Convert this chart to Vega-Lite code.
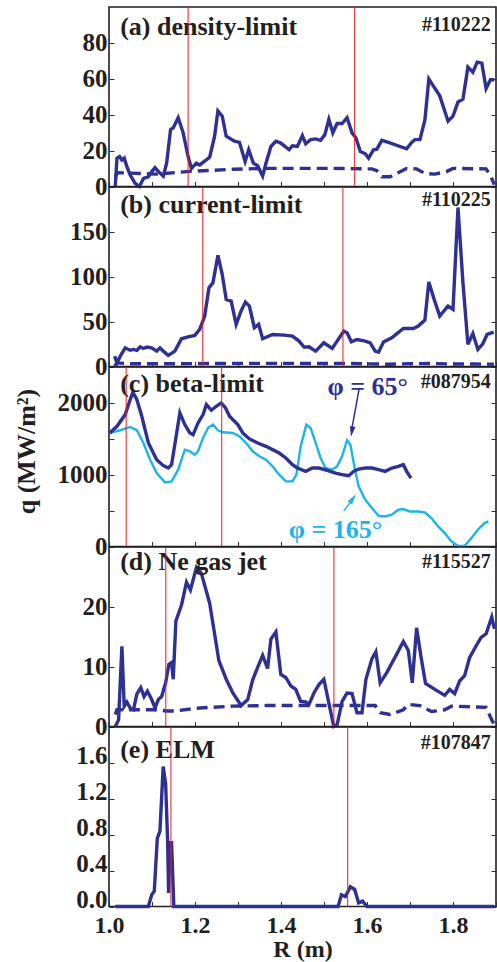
{
"$schema": "https://vega.github.io/schema/vega-lite/v6.json",
"padding": {"left": 12, "top": 5, "right": 0, "bottom": 0},
"spacing": 0,
"bounds": "flush",
"config": {
 "font": "Liberation Serif",
 "view": {"stroke": "#231f20", "strokeWidth": 1.6},
 "axis": {"domain": false, "grid": false, "ticks": true, "tickSize": -5, "tickColor": "#333333", "tickWidth": 1,
  "labelFont": "Liberation Serif", "labelFontWeight": "bold", "labelFontSize": 25, "labelColor": "#231f20",
  "labelPadding": 7, "labelOverlap": false, "labelFlush": false,
  "titleFont": "Liberation Serif", "titleFontWeight": "bold", "titleFontSize": 25, "titleColor": "#231f20"},
 "text": {"font": "Liberation Serif", "fontWeight": "bold", "color": "#231f20"}
},
"datasets": {
 "vlines": [
  {"p": "a", "R": 1.184}, {"p": "a", "R": 1.571},
  {"p": "b", "R": 1.218}, {"p": "b", "R": 1.544},
  {"p": "c", "R": 1.040}, {"p": "c", "R": 1.262},
  {"p": "d", "R": 1.132}, {"p": "d", "R": 1.523},
  {"p": "e", "R": 1.144}, {"p": "e", "R": 1.555}
 ],
 "a_solid": [
  {"R":1.0146,"q":0},{"R":1.0185,"q":15.8},{"R":1.0246,"q":16.7},{"R":1.030,"q":14.8},{"R":1.0354,"q":15.8},{"R":1.0416,"q":11.1},{"R":1.0493,"q":6.4},{"R":1.0608,"q":1.7},{"R":1.0708,"q":0},{"R":1.0801,"q":4.5},{"R":1.0916,"q":5.4},{"R":1.0993,"q":8.3},{"R":1.107,"q":10.5},{"R":1.1147,"q":8.3},{"R":1.1263,"q":5.8},{"R":1.134,"q":13.0},{"R":1.1432,"q":31.7},{"R":1.1494,"q":32.7},{"R":1.1609,"q":38.3},{"R":1.1725,"q":29.9},{"R":1.184,"q":16.7},{"R":1.1917,"q":10.1},{"R":1.2033,"q":13.0},{"R":1.211,"q":12.0},{"R":1.2341,"q":16.3},{"R":1.2456,"q":28.0},{"R":1.2533,"q":42.1},{"R":1.2633,"q":39.2},{"R":1.2726,"q":28.0},{"R":1.2918,"q":25.2},{"R":1.3034,"q":24.6},{"R":1.3165,"q":13.9},{"R":1.3249,"q":20.5},{"R":1.3357,"q":13.0},{"R":1.3457,"q":11.6},{"R":1.3573,"q":5.8},{"R":1.365,"q":13.0},{"R":1.3765,"q":22.3},{"R":1.3881,"q":25.2},{"R":1.3996,"q":24.2},{"R":1.4189,"q":20.5},{"R":1.4266,"q":22.7},{"R":1.4381,"q":22.3},{"R":1.4497,"q":28.4},{"R":1.4574,"q":23.8},{"R":1.4689,"q":26.1},{"R":1.4805,"q":26.5},{"R":1.492,"q":25.7},{"R":1.502,"q":28.9},{"R":1.5113,"q":37.4},{"R":1.5205,"q":29.9},{"R":1.5305,"q":35.1},{"R":1.5421,"q":35.1},{"R":1.5536,"q":38.3},{"R":1.5652,"q":29.9},{"R":1.5744,"q":27.0},{"R":1.5844,"q":19.5},{"R":1.596,"q":18.2},{"R":1.6037,"q":15.8},{"R":1.6152,"q":20.5},{"R":1.6229,"q":20.8},{"R":1.6345,"q":25.7},{"R":1.6499,"q":24.6},{"R":1.6922,"q":21.0},{"R":1.7038,"q":24.6},{"R":1.7115,"q":26.1},{"R":1.723,"q":26.1},{"R":1.7346,"q":37.0},{"R":1.7438,"q":59.9},{"R":1.7538,"q":56.2},{"R":1.7692,"q":50.5},{"R":1.7885,"q":36.4},{"R":1.8,"q":39.2},{"R":1.8116,"q":47.1},{"R":1.8231,"q":48.6},{"R":1.8347,"q":66.5},{"R":1.8462,"q":63.7},{"R":1.8562,"q":69.3},{"R":1.867,"q":68.7},{"R":1.877,"q":54.6},{"R":1.887,"q":59.5},{"R":1.8963,"q":59.5}
 ],
 "a_dash": [
  {"R":1.0146,"q":5.4},{"R":1.02,"q":7.7},{"R":1.1109,"q":6.9},{"R":1.1802,"q":8.3},{"R":1.288,"q":9.6},{"R":1.365,"q":10.1},{"R":1.519,"q":10.1},{"R":1.6114,"q":9.8},{"R":1.623,"q":8.8},{"R":1.6345,"q":5.4},{"R":1.6537,"q":5.4},{"R":1.6922,"q":10.1},{"R":1.7153,"q":9.8},{"R":1.7346,"q":7.3},{"R":1.7577,"q":6.9},{"R":1.7846,"q":8.3},{"R":1.8,"q":10.1},{"R":1.877,"q":9.8},{"R":1.8886,"q":5.4},{"R":1.896,"q":1.0}
 ],
 "b_solid": [
  {"R":1.0131,"q":11.5},{"R":1.0185,"q":4.1},{"R":1.0262,"q":11.5},{"R":1.0377,"q":20.8},{"R":1.0493,"q":18.2},{"R":1.057,"q":19.0},{"R":1.0647,"q":17.9},{"R":1.0724,"q":22.0},{"R":1.0801,"q":20.1},{"R":1.0878,"q":21.6},{"R":1.0993,"q":20.8},{"R":1.1109,"q":17.1},{"R":1.1186,"q":20.8},{"R":1.1263,"q":17.1},{"R":1.1378,"q":12.3},{"R":1.1532,"q":17.1},{"R":1.1686,"q":30.9},{"R":1.184,"q":33.1},{"R":1.1994,"q":34.6},{"R":1.211,"q":41.3},{"R":1.2225,"q":56.2},{"R":1.2325,"q":87.8},{"R":1.2418,"q":93.4},{"R":1.2533,"q":123.9},{"R":1.2633,"q":102.7},{"R":1.2726,"q":74.8},{"R":1.2841,"q":72.9},{"R":1.2957,"q":46.9},{"R":1.3072,"q":61.8},{"R":1.3172,"q":71.8},{"R":1.3265,"q":67.4},{"R":1.338,"q":43.2},{"R":1.348,"q":46.9},{"R":1.3573,"q":30.9},{"R":1.3804,"q":35.7},{"R":1.4073,"q":35.0},{"R":1.4266,"q":33.9},{"R":1.442,"q":28.3},{"R":1.4535,"q":21.6},{"R":1.4651,"q":22.0},{"R":1.4805,"q":17.1},{"R":1.4997,"q":26.4},{"R":1.519,"q":20.1},{"R":1.5305,"q":28.3},{"R":1.5459,"q":39.4},{"R":1.5536,"q":37.6},{"R":1.5636,"q":27.5},{"R":1.5767,"q":30.1},{"R":1.596,"q":28.3},{"R":1.6075,"q":26.4},{"R":1.6191,"q":17.1},{"R":1.6268,"q":16.0},{"R":1.6383,"q":27.2},{"R":1.6576,"q":32.0},{"R":1.6845,"q":42.4},{"R":1.7076,"q":42.4},{"R":1.7192,"q":45.0},{"R":1.7346,"q":51.7},{"R":1.7438,"q":94.2},{"R":1.7561,"q":74.8},{"R":1.7692,"q":56.2},{"R":1.7885,"q":67.4},{"R":1.8,"q":63.6},{"R":1.8116,"q":177.2},{"R":1.8231,"q":93.4},{"R":1.8347,"q":24.6},{"R":1.8462,"q":36.8},{"R":1.8578,"q":19.0},{"R":1.8693,"q":25.3},{"R":1.8793,"q":35.7},{"R":1.8947,"q":38.3}
 ],
 "b_dash": [
  {"R":1.0131,"q":0.5},{"R":1.0185,"q":4},{"R":1.05,"q":3},{"R":1.1,"q":3},{"R":1.2,"q":3.2},{"R":1.3,"q":3.5},{"R":1.4,"q":3.5},{"R":1.5,"q":3.3},{"R":1.55,"q":3.5},{"R":1.6,"q":3},{"R":1.65,"q":2.5},{"R":1.7,"q":3.2},{"R":1.75,"q":3.3},{"R":1.8,"q":2.8},{"R":1.85,"q":2.8},{"R":1.895,"q":2.5}
 ],
 "c_65": [
  {"R":1.0015,"q":1581},{"R":1.0185,"q":1674},{"R":1.0377,"q":1837},{"R":1.0454,"q":1977},{"R":1.0554,"q":2149},{"R":1.0647,"q":2047},{"R":1.0762,"q":1814},{"R":1.0916,"q":1442},{"R":1.1109,"q":1209},{"R":1.1263,"q":1126},{"R":1.1378,"q":1093},{"R":1.1455,"q":1140},{"R":1.1555,"q":1512},{"R":1.1648,"q":1860},{"R":1.1763,"q":1698},{"R":1.1879,"q":1581},{"R":1.1956,"q":1558},{"R":1.2071,"q":1721},{"R":1.2187,"q":1837},{"R":1.2264,"q":1977},{"R":1.2379,"q":1898},{"R":1.2495,"q":1953},{"R":1.261,"q":2000},{"R":1.271,"q":1930},{"R":1.2803,"q":1814},{"R":1.2918,"q":1744},{"R":1.2995,"q":1698},{"R":1.3111,"q":1581},{"R":1.3265,"q":1498},{"R":1.3457,"q":1442},{"R":1.365,"q":1395},{"R":1.3804,"q":1349},{"R":1.3958,"q":1302},{"R":1.4112,"q":1233},{"R":1.4266,"q":1140},{"R":1.4381,"q":1093},{"R":1.4574,"q":1047},{"R":1.4728,"q":1093},{"R":1.4882,"q":1093},{"R":1.5074,"q":1060},{"R":1.5267,"q":1023},{"R":1.5421,"q":1000},{"R":1.5575,"q":986},{"R":1.569,"q":1047},{"R":1.5806,"q":1079},{"R":1.596,"q":1093},{"R":1.6114,"q":1093},{"R":1.6268,"q":1070},{"R":1.6422,"q":1047},{"R":1.6576,"q":1093},{"R":1.673,"q":1116},{"R":1.6845,"q":1140},{"R":1.6922,"q":1047},{"R":1.7022,"q":953}
 ],
 "c_165": [
  {"R":1.0015,"q":1581},{"R":1.0262,"q":1619},{"R":1.0493,"q":1665},{"R":1.0647,"q":1619},{"R":1.0801,"q":1442},{"R":1.0955,"q":1209},{"R":1.1109,"q":1023},{"R":1.1301,"q":893},{"R":1.1455,"q":907},{"R":1.1609,"q":1070},{"R":1.1763,"q":1349},{"R":1.1879,"q":1326},{"R":1.1994,"q":1279},{"R":1.2071,"q":1326},{"R":1.2187,"q":1512},{"R":1.2302,"q":1651},{"R":1.2418,"q":1698},{"R":1.2533,"q":1619},{"R":1.2649,"q":1591},{"R":1.288,"q":1581},{"R":1.3034,"q":1535},{"R":1.3188,"q":1442},{"R":1.3342,"q":1326},{"R":1.3496,"q":1256},{"R":1.365,"q":1209},{"R":1.3804,"q":1116},{"R":1.3958,"q":1000},{"R":1.4112,"q":907},{"R":1.4266,"q":907},{"R":1.4358,"q":1000},{"R":1.4458,"q":1395},{"R":1.4589,"q":1698},{"R":1.4689,"q":1651},{"R":1.4805,"q":1442},{"R":1.492,"q":1233},{"R":1.5036,"q":1093},{"R":1.519,"q":1070},{"R":1.5305,"q":1116},{"R":1.5421,"q":1256},{"R":1.5536,"q":1480},{"R":1.5613,"q":1419},{"R":1.5713,"q":1093},{"R":1.5806,"q":837},{"R":1.596,"q":651},{"R":1.6114,"q":535},{"R":1.6268,"q":428},{"R":1.6422,"q":419},{"R":1.6576,"q":442},{"R":1.673,"q":512},{"R":1.6845,"q":521},{"R":1.6999,"q":488},{"R":1.7192,"q":488},{"R":1.7346,"q":474},{"R":1.75,"q":395},{"R":1.7654,"q":279},{"R":1.7808,"q":186},{"R":1.7962,"q":70},{"R":1.8116,"q":9},{"R":1.827,"q":9},{"R":1.8424,"q":116},{"R":1.8578,"q":233},{"R":1.8732,"q":326},{"R":1.8824,"q":349}
 ],
 "d_solid": [
  {"R":1.0146,"q":0},{"R":1.0223,"q":1.1},{"R":1.03,"q":13.4},{"R":1.0354,"q":3.4},{"R":1.0416,"q":4.1},{"R":1.0493,"q":3.1},{"R":1.057,"q":2.8},{"R":1.0647,"q":5.4},{"R":1.0739,"q":6.5},{"R":1.0816,"q":5.0},{"R":1.0893,"q":5.9},{"R":1.0993,"q":4.5},{"R":1.107,"q":3.1},{"R":1.1147,"q":4.5},{"R":1.1224,"q":5.0},{"R":1.1317,"q":7.3},{"R":1.1394,"q":10.4},{"R":1.1455,"q":10.7},{"R":1.1494,"q":7.9},{"R":1.1555,"q":17.6},{"R":1.1686,"q":20.3},{"R":1.1802,"q":24.1},{"R":1.1894,"q":22.8},{"R":1.2033,"q":26.6},{"R":1.2148,"q":25.6},{"R":1.2341,"q":20.6},{"R":1.2556,"q":11.0},{"R":1.2726,"q":7.9},{"R":1.288,"q":5.6},{"R":1.3072,"q":3.5},{"R":1.3226,"q":4.5},{"R":1.3342,"q":7.8},{"R":1.3457,"q":9.9},{"R":1.3573,"q":11.9},{"R":1.3688,"q":9.7},{"R":1.3765,"q":14.6},{"R":1.3881,"q":15.8},{"R":1.3996,"q":8.7},{"R":1.4112,"q":8.2},{"R":1.4227,"q":6.8},{"R":1.4343,"q":6.2},{"R":1.4458,"q":4.2},{"R":1.4574,"q":4.1},{"R":1.4651,"q":3.7},{"R":1.4766,"q":5.6},{"R":1.4882,"q":7.0},{"R":1.4997,"q":7.9},{"R":1.5113,"q":3.9},{"R":1.5228,"q":0},{"R":1.5305,"q":0.3},{"R":1.5421,"q":4.2},{"R":1.5536,"q":5.6},{"R":1.5652,"q":5.5},{"R":1.5767,"q":2.3},{"R":1.5883,"q":2.3},{"R":1.5975,"q":7.9},{"R":1.6114,"q":11.3},{"R":1.6206,"q":12.5},{"R":1.6306,"q":7.3},{"R":1.646,"q":9.0},{"R":1.6691,"q":12.1},{"R":1.6845,"q":14.2},{"R":1.6961,"q":12.7},{"R":1.7053,"q":7.3},{"R":1.7153,"q":16.5},{"R":1.7253,"q":11.8},{"R":1.7361,"q":7.2},{"R":1.7577,"q":6.2},{"R":1.7808,"q":5.2},{"R":1.7923,"q":6.2},{"R":1.8039,"q":5.5},{"R":1.8154,"q":7.6},{"R":1.827,"q":8.5},{"R":1.8385,"q":11.5},{"R":1.8539,"q":13.5},{"R":1.8655,"q":14.9},{"R":1.877,"q":15.5},{"R":1.8901,"q":18.3},{"R":1.8963,"q":16.3}
 ],
 "d_dash": [
  {"R":1.0146,"q":2.0},{"R":1.0185,"q":2.8},{"R":1.057,"q":2.8},{"R":1.1109,"q":2.8},{"R":1.134,"q":2.6},{"R":1.1532,"q":2.6},{"R":1.211,"q":3.1},{"R":1.288,"q":3.4},{"R":1.365,"q":3.5},{"R":1.519,"q":3.5},{"R":1.6191,"q":3.5},{"R":1.6306,"q":2.3},{"R":1.6537,"q":2.0},{"R":1.6845,"q":2.8},{"R":1.6961,"q":3.7},{"R":1.723,"q":3.5},{"R":1.75,"q":2.5},{"R":1.7808,"q":2.8},{"R":1.7962,"q":3.4},{"R":1.877,"q":3.2},{"R":1.8901,"q":1.1},{"R":1.8963,"q":0.3}
 ],
 "e_solid": [
  {"R":1.0146,"q":0},{"R":1.0915,"q":0},{"R":1.0993,"q":0.13},{"R":1.1053,"q":0.17},{"R":1.1123,"q":0.76},{"R":1.1185,"q":0.84},{"R":1.126,"q":1.56},{"R":1.1317,"q":1.37},{"R":1.1363,"q":0.74},{"R":1.1386,"q":0.15},{"R":1.1416,"q":0.71},{"R":1.1455,"q":0.71},{"R":1.1508,"q":0},{"R":1.5327,"q":0},{"R":1.5405,"q":0.13},{"R":1.5498,"q":0.11},{"R":1.5613,"q":0.22},{"R":1.5713,"q":0.19},{"R":1.5805,"q":0.04},{"R":1.5898,"q":0.06},{"R":1.5998,"q":0},{"R":1.8963,"q":0}
 ]
},
"vconcat": [
 {
  "width": 387, "height": 179.5,
  "resolve": {"axis": {"x": "independent", "y": "independent"}},
  "layer": [
   {"data": {"name": "a_solid"}, "mark": {"type": "line", "color": "#2e3192", "strokeWidth": 3.4},
    "encoding": {
     "x": {"field": "R", "type": "quantitative", "scale": {"domain": [1.0, 1.9], "nice": false, "zero": false},
       "axis": {"orient": "bottom", "values": [1.0,1.1,1.2,1.3,1.4,1.5,1.6,1.7,1.8,1.9], "labels": false, "title": null}},
     "y": {"field": "q", "type": "quantitative", "scale": {"domain": [0, 100], "nice": false},
       "axis": {"orient": "left", "values": [0,20,40,60,80], "title": null}}}},
   {"data": {"name": "a_dash"}, "mark": {"type": "line", "color": "#2e3192", "strokeWidth": 3.4, "strokeDash": [11, 6]},
    "encoding": {"x": {"field": "R", "type": "quantitative", "axis": null}, "y": {"field": "q", "type": "quantitative", "axis": null}}},
   {"data": {"values": [{}]}, "mark": {"type": "text", "align": "left", "baseline": "alphabetic", "fontSize": 26},
    "encoding": {"x": {"datum": 1.026, "type": "quantitative", "axis": null}, "y": {"datum": 84.5, "type": "quantitative", "axis": null}, "text": {"value": "(a) density-limit"}}},
   {"data": {"values": [{}]}, "mark": {"type": "text", "align": "right", "baseline": "alphabetic", "fontSize": 20},
    "encoding": {"x": {"datum": 1.888, "type": "quantitative", "axis": null}, "y": {"datum": 86.6, "type": "quantitative", "axis": {"orient": "right", "labels": false, "values": [0,20,40,60,80], "title": null}}, "text": {"value": "#110222"}}},
   {"data": {"name": "vlines"}, "transform": [{"filter": "datum.p == 'a'"}], "mark": {"type": "rule", "color": "#ec1c24", "strokeWidth": 1.2, "opacity": 0.85},
    "encoding": {"x": {"field": "R", "type": "quantitative", "axis": null}}}
  ]
 },
 {
  "width": 387, "height": 179.5,
  "resolve": {"axis": {"x": "independent", "y": "independent"}},
  "layer": [
   {"data": {"name": "b_solid"}, "mark": {"type": "line", "color": "#2e3192", "strokeWidth": 3.4},
    "encoding": {
     "x": {"field": "R", "type": "quantitative", "scale": {"domain": [1.0, 1.9], "nice": false, "zero": false},
       "axis": {"orient": "bottom", "values": [1.0,1.1,1.2,1.3,1.4,1.5,1.6,1.7,1.8,1.9], "labels": false, "title": null}},
     "y": {"field": "q", "type": "quantitative", "scale": {"domain": [0, 200], "nice": false},
       "axis": {"orient": "left", "values": [0,50,100,150], "title": null}}}},
   {"data": {"name": "b_dash"}, "mark": {"type": "line", "color": "#2e3192", "strokeWidth": 3.4, "strokeDash": [11, 6]},
    "encoding": {"x": {"field": "R", "type": "quantitative", "axis": null}, "y": {"field": "q", "type": "quantitative", "axis": null}}},
   {"data": {"values": [{}]}, "mark": {"type": "text", "align": "left", "baseline": "alphabetic", "fontSize": 26},
    "encoding": {"x": {"datum": 1.026, "type": "quantitative", "axis": null}, "y": {"datum": 171, "type": "quantitative", "axis": null}, "text": {"value": "(b) current-limit"}}},
   {"data": {"values": [{}]}, "mark": {"type": "text", "align": "right", "baseline": "alphabetic", "fontSize": 20},
    "encoding": {"x": {"datum": 1.888, "type": "quantitative", "axis": null}, "y": {"datum": 178.6, "type": "quantitative", "axis": {"orient": "right", "labels": false, "values": [0,50,100,150], "title": null}}, "text": {"value": "#110225"}}},
   {"data": {"name": "vlines"}, "transform": [{"filter": "datum.p == 'b'"}], "mark": {"type": "rule", "color": "#ec1c24", "strokeWidth": 1.2, "opacity": 0.85},
    "encoding": {"x": {"field": "R", "type": "quantitative", "axis": null}}}
  ]
 },
 {
  "width": 387, "height": 179.5,
  "resolve": {"axis": {"x": "independent", "y": "independent"}},
  "layer": [
   {"data": {"name": "c_165"}, "mark": {"type": "line", "color": "#1cb5ea", "strokeWidth": 2.4},
    "encoding": {"x": {"field": "R", "type": "quantitative", "axis": null}, "y": {"field": "q", "type": "quantitative", "axis": null}}},
   {"data": {"name": "c_65"}, "mark": {"type": "line", "color": "#2e3192", "strokeWidth": 3.4},
    "encoding": {
     "x": {"field": "R", "type": "quantitative", "scale": {"domain": [1.0, 1.9], "nice": false, "zero": false},
       "axis": {"orient": "bottom", "values": [1.0,1.1,1.2,1.3,1.4,1.5,1.6,1.7,1.8,1.9], "labels": false, "title": null}},
     "y": {"field": "q", "type": "quantitative", "scale": {"domain": [0, 2500], "nice": false},
       "axis": {"orient": "left", "values": [0,500,1000,1500,2000], "format": "d", "labelExpr": "datum.value % 1000 == 0 ? datum.label : ''",
         "title": "q (MW/m²)", "titleFontSize": 26, "titlePadding": 18, "titleY": 84}}}},
   {"data": {"values": [{}]}, "mark": {"type": "text", "align": "left", "baseline": "alphabetic", "fontSize": 26},
    "encoding": {"x": {"datum": 1.026, "type": "quantitative", "axis": null}, "y": {"datum": 2149, "type": "quantitative", "axis": null}, "text": {"value": "(c) beta-limit"}}},
   {"data": {"values": [{}]}, "mark": {"type": "text", "align": "right", "baseline": "alphabetic", "fontSize": 20},
    "encoding": {"x": {"datum": 1.888, "type": "quantitative", "axis": null}, "y": {"datum": 2208, "type": "quantitative", "axis": {"orient": "right", "labels": false, "values": [0,500,1000,1500,2000], "title": null}}, "text": {"value": "#087954"}}},
   {"data": {"values": [{}]}, "mark": {"type": "text", "align": "center", "baseline": "alphabetic", "fontSize": 26, "color": "#2e3192"},
    "encoding": {"x": {"datum": 1.6016, "type": "quantitative", "axis": null}, "y": {"datum": 2115, "type": "quantitative", "axis": null}, "text": {"value": "φ = 65°"}}},
   {"data": {"values": [{}]}, "mark": {"type": "text", "align": "center", "baseline": "alphabetic", "fontSize": 26, "color": "#1cb5ea"},
    "encoding": {"x": {"datum": 1.5267, "type": "quantitative", "axis": null}, "y": {"datum": 125, "type": "quantitative", "axis": null}, "text": {"value": "φ = 165°"}}},
   {"data": {"values": [{}]}, "mark": {"type": "rule", "color": "#2e3192", "strokeWidth": 1.5},
    "encoding": {"x": {"datum": 1.5821, "type": "quantitative", "axis": null}, "y": {"datum": 2208, "type": "quantitative", "axis": null}, "x2": {"datum": 1.5635}, "y2": {"datum": 1600}}},
   {"data": {"values": [{}]}, "mark": {"type": "point", "filled": true, "opacity": 1, "color": "#2e3192", "shape": "M0,0L-0.7,2.6L0.7,2.6Z", "size": 64, "angle": 190},
    "encoding": {"x": {"datum": 1.5627, "type": "quantitative", "axis": null}, "y": {"datum": 1528, "type": "quantitative", "axis": null}}},
   {"data": {"values": [{}]}, "mark": {"type": "rule", "color": "#1cb5ea", "strokeWidth": 1.5},
    "encoding": {"x": {"datum": 1.5459, "type": "quantitative", "axis": null}, "y": {"datum": 496, "type": "quantitative", "axis": null}, "x2": {"datum": 1.568}, "y2": {"datum": 670}}},
   {"data": {"values": [{}]}, "mark": {"type": "point", "filled": true, "opacity": 1, "color": "#1cb5ea", "shape": "M0,0L-0.7,2.6L0.7,2.6Z", "size": 64, "angle": 36},
    "encoding": {"x": {"datum": 1.5743, "type": "quantitative", "axis": null}, "y": {"datum": 726, "type": "quantitative", "axis": null}}},
   {"data": {"name": "vlines"}, "transform": [{"filter": "datum.p == 'c'"}], "mark": {"type": "rule", "color": "#ec1c24", "strokeWidth": 1.2, "opacity": 0.85},
    "encoding": {"x": {"field": "R", "type": "quantitative", "axis": null}}}
  ]
 },
 {
  "width": 387, "height": 179.5,
  "resolve": {"axis": {"x": "independent", "y": "independent"}},
  "layer": [
   {"data": {"name": "d_solid"}, "mark": {"type": "line", "color": "#2e3192", "strokeWidth": 3.4},
    "encoding": {
     "x": {"field": "R", "type": "quantitative", "scale": {"domain": [1.0, 1.9], "nice": false, "zero": false},
       "axis": {"orient": "bottom", "values": [1.0,1.1,1.2,1.3,1.4,1.5,1.6,1.7,1.8,1.9], "labels": false, "title": null}},
     "y": {"field": "q", "type": "quantitative", "scale": {"domain": [0, 30], "nice": false},
       "axis": {"orient": "left", "values": [0,10,20], "title": null}}}},
   {"data": {"name": "d_dash"}, "mark": {"type": "line", "color": "#2e3192", "strokeWidth": 3.4, "strokeDash": [11, 6]},
    "encoding": {"x": {"field": "R", "type": "quantitative", "axis": null}, "y": {"field": "q", "type": "quantitative", "axis": null}}},
   {"data": {"values": [{}]}, "mark": {"type": "text", "align": "left", "baseline": "alphabetic", "fontSize": 26},
    "encoding": {"x": {"datum": 1.026, "type": "quantitative", "axis": null}, "y": {"datum": 26.2, "type": "quantitative", "axis": null}, "text": {"value": "(d) Ne gas jet"}}},
   {"data": {"values": [{}]}, "mark": {"type": "text", "align": "right", "baseline": "alphabetic", "fontSize": 20},
    "encoding": {"x": {"datum": 1.888, "type": "quantitative", "axis": null}, "y": {"datum": 26.5, "type": "quantitative", "axis": {"orient": "right", "labels": false, "values": [0,10,20], "title": null}}, "text": {"value": "#115527"}}},
   {"data": {"name": "vlines"}, "transform": [{"filter": "datum.p == 'd'"}], "mark": {"type": "rule", "color": "#ec1c24", "strokeWidth": 1.2, "opacity": 0.85},
    "encoding": {"x": {"field": "R", "type": "quantitative", "axis": null}}}
  ]
 },
 {
  "width": 387, "height": 179.5,
  "resolve": {"axis": {"x": "independent", "y": "independent"}},
  "layer": [
   {"data": {"name": "e_solid"}, "mark": {"type": "line", "color": "#2e3192", "strokeWidth": 3.4},
    "encoding": {
     "x": {"field": "R", "type": "quantitative", "scale": {"domain": [1.0, 1.9], "nice": false, "zero": false},
       "axis": {"orient": "bottom", "values": [1.0,1.1,1.2,1.3,1.4,1.5,1.6,1.7,1.8,1.9], "format": ".1f",
         "labelExpr": "(round(datum.value*10) % 2 == 0 && datum.value < 1.85) ? datum.label : ''",
         "labelFontSize": 24, "title": "R (m)", "titleFontSize": 24, "labelPadding": 12, "titlePadding": 0}},
     "y": {"field": "q", "type": "quantitative", "scale": {"domain": [0, 2], "nice": false},
       "axis": {"orient": "left", "values": [0,0.4,0.8,1.2,1.6], "format": ".1f", "title": null, "labelOffset": -7}}}},
   {"data": {"values": [{}]}, "mark": {"type": "text", "align": "left", "baseline": "alphabetic", "fontSize": 26},
    "encoding": {"x": {"datum": 1.026, "type": "quantitative", "axis": null}, "y": {"datum": 1.65, "type": "quantitative", "axis": null}, "text": {"value": "(e) ELM"}}},
   {"data": {"values": [{}]}, "mark": {"type": "text", "align": "right", "baseline": "alphabetic", "fontSize": 20},
    "encoding": {"x": {"datum": 1.888, "type": "quantitative", "axis": null}, "y": {"datum": 1.76, "type": "quantitative", "axis": {"orient": "right", "labels": false, "values": [0,0.4,0.8,1.2,1.6], "title": null}}, "text": {"value": "#107847"}}},
   {"data": {"name": "vlines"}, "transform": [{"filter": "datum.p == 'e'"}], "mark": {"type": "rule", "color": "#ec1c24", "strokeWidth": 1.2, "opacity": 0.85},
    "encoding": {"x": {"field": "R", "type": "quantitative", "axis": null}}}
  ]
 }
]
}
